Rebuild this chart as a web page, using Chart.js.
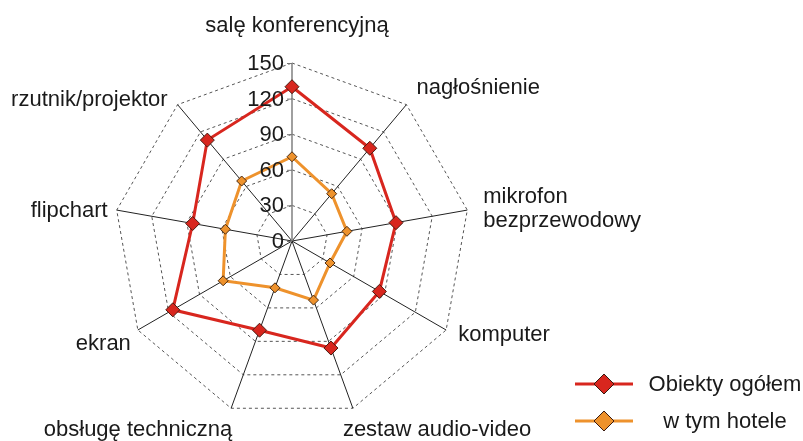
<!DOCTYPE html>
<html>
<head>
<meta charset="utf-8">
<script src="https://cdn.jsdelivr.net/npm/chart.js@4.4.0/dist/chart.umd.min.js"></script>
<style>
  body { margin: 0; background: #fff; }
  #wrap { width: 803px; height: 441px; position: relative; }
</style>
</head>
<body>
<div id="wrap"><canvas id="radar"></canvas></div>
<script>
const categories = [
    'salę konferencyjną',
    'nagłośnienie',
    ['mikrofon', 'bezprzewodowy'],
    'komputer',
    'zestaw audio-video',
    'obsługę techniczną',
    'ekran',
    'flipchart',
    'rzutnik/projektor'
];
const obiektyOgolem = [130, 102, 89, 85, 96, 80, 116, 85, 111];
const hotele = [71, 52, 47, 37, 53, 42, 67, 57, 66];
const tickValues = [0, 30, 60, 90, 120, 150];
const seriesNames = ['Obiekty ogółem', 'w tym hotele'];

const FONT = '22px "Liberation Sans", Arial, sans-serif';
const RED = '#d8261e';
const ORANGE = '#ee922c';

// where each category label sits relative to the tip of its axis: [dx, dy, align]
const labelOffsets = [
    [5, -31, 'center'],
    [10, -11, 'left'],
    [16, -7, 'left'],
    [12, 11, 'left'],
    [-10, 28, 'left'],
    [1, 28, 'right'],
    [-7, 20, 'right'],
    [-9, 7, 'right'],
    [-10, 1, 'right']
];

const extras = {
    id: 'extras',
    afterDatasetsDraw(chart) {
        const ctx = chart.ctx;
        const r = chart.scales.r;
        ctx.save();
        ctx.font = FONT;
        ctx.fillStyle = '#1a1a1a';

        // tick labels + small tick marks on the vertical axis
        ctx.textAlign = 'right';
        ctx.textBaseline = 'middle';
        tickValues.forEach(v => {
            const y = r.yCenter - r.getDistanceFromCenterForValue(v);
            ctx.fillText(String(v), r.xCenter - 8, y + 1);
            ctx.strokeStyle = '#777';
            ctx.lineWidth = 1;
            ctx.beginPath();
            ctx.moveTo(r.xCenter - 5, y + 0.5);
            ctx.lineTo(r.xCenter, y + 0.5);
            ctx.stroke();
        });

        // category labels
        ctx.textBaseline = 'alphabetic';
        categories.forEach((lab, i) => {
            const tip = r.getPointPosition(i, r.drawingArea);
            const [dx, dy, align] = labelOffsets[i];
            ctx.textAlign = align;
            const lines = Array.isArray(lab) ? lab : [lab];
            lines.forEach((t, k) => {
                ctx.fillText(t, tip.x + dx, tip.y + dy + k * 24);
            });
        });

        // legend
        chart.data.datasets.forEach((ds, i) => {
            const y = 384 + i * 37;
            ctx.strokeStyle = ds.borderColor;
            ctx.lineWidth = 3;
            ctx.beginPath();
            ctx.moveTo(575, y);
            ctx.lineTo(633, y);
            ctx.stroke();
            ctx.fillStyle = ds.pointBackgroundColor;
            ctx.strokeStyle = '#3a1a10';
            ctx.lineWidth = 1;
            ctx.beginPath();
            ctx.moveTo(604, y - 10);
            ctx.lineTo(614, y);
            ctx.lineTo(604, y + 10);
            ctx.lineTo(594, y);
            ctx.closePath();
            ctx.fill();
            ctx.stroke();
            ctx.fillStyle = '#1a1a1a';
            ctx.textAlign = 'center';
            ctx.fillText(ds.label, 725, y + 7);
        });
        ctx.restore();
    }
};

new Chart(document.getElementById('radar').getContext('2d'), {
    type: 'radar',
    data: {
        labels: categories,
        datasets: [
            {
                label: seriesNames[0],
                data: obiektyOgolem,
                borderColor: RED,
                borderWidth: 3,
                fill: false,
                pointStyle: 'rectRot',
                pointRadius: 7,
                pointBackgroundColor: RED,
                pointBorderColor: '#4a1a10',
                pointBorderWidth: 1
            },
            {
                label: seriesNames[1],
                data: hotele,
                borderColor: ORANGE,
                borderWidth: 3,
                fill: false,
                pointStyle: 'rectRot',
                pointRadius: 5,
                pointBackgroundColor: ORANGE,
                pointBorderColor: '#4a2a10',
                pointBorderWidth: 1
            }
        ]
    },
    options: {
        responsive: true,
        maintainAspectRatio: false,
        animation: false,
        layout: { padding: { left: 114, top: 63, right: 333, bottom: 22 } },
        plugins: {
            legend: { display: false },
            tooltip: { enabled: false }
        },
        elements: { line: { tension: 0 } },
        scales: {
            r: {
                min: 0,
                max: 150,
                ticks: { stepSize: 30, display: false },
                pointLabels: { display: false },
                grid: { color: '#555', lineWidth: 1, borderDash: [3, 3] },
                border: { dash: [3, 3] },
                angleLines: {
                    color: ctx => ctx.index === 0 ? '#888' : '#222',
                    lineWidth: ctx => ctx.index === 0 ? 1.6 : 1
                }
            }
        }
    },
    plugins: [extras]
});
</script>
</body>
</html>
